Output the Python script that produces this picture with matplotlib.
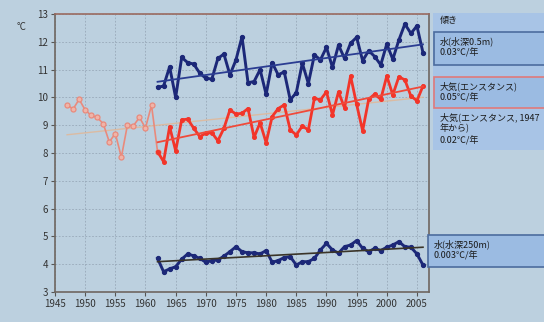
import numpy as np
import matplotlib
matplotlib.use("Agg")
import matplotlib.pyplot as plt
from matplotlib.patches import Rectangle

plt.rcParams['font.family'] = ['Noto Sans CJK JP', 'DejaVu Sans']

# ---- data -------------------------------------------------------------
years_main = list(range(1962, 2007))
years_early = list(range(1947, 1963))

water_05m = [10.36, 10.41, 11.10, 10.00, 11.44, 11.25, 11.20, 10.87, 10.69, 10.66,
             11.40, 11.56, 10.81, 11.35, 12.18, 10.53, 10.57, 11.00, 10.11, 11.25,
             10.81, 10.92, 9.91, 10.17, 11.23, 10.50, 11.53, 11.35, 11.80, 11.08,
             11.88, 11.40, 11.95, 12.16, 11.32, 11.68, 11.47, 11.17, 11.92, 11.37,
             12.06, 12.64, 12.30, 12.57, 11.61]

air = [8.05, 7.69, 8.95, 8.08, 9.19, 9.22, 8.89, 8.59, 8.71, 8.73,
       8.44, 8.89, 9.55, 9.40, 9.43, 9.60, 8.56, 9.09, 8.37, 9.31,
       9.60, 9.73, 8.83, 8.65, 8.97, 8.83, 9.97, 9.91, 10.20, 9.37,
       10.20, 9.62, 10.77, 9.75, 8.80, 9.93, 10.12, 9.93, 10.77, 10.09,
       10.74, 10.63, 10.05, 9.88, 10.41]

air_early = [9.73, 9.58, 9.93, 9.55, 9.35, 9.28, 9.05, 8.40, 8.70, 7.85,
             9.00, 8.98, 9.28, 8.90, 9.72, 8.05]

water_250m = [4.21, 3.73, 3.83, 3.91, 4.18, 4.37, 4.30, 4.21, 4.07, 4.13,
              4.15, 4.29, 4.45, 4.63, 4.45, 4.41, 4.41, 4.37, 4.49, 4.07,
              4.13, 4.24, 4.27, 3.97, 4.09, 4.09, 4.21, 4.51, 4.75, 4.51,
              4.40, 4.63, 4.69, 4.85, 4.57, 4.45, 4.57, 4.49, 4.61, 4.69,
              4.81, 4.63, 4.61, 4.37, 3.97]

x_ticks = list(range(1945, 2006, 5))
y_ticks = list(range(3, 14))

legend_title = "傾き"
label_w05 = "水(水深0.5m)\n0.03℃/年"
label_air = "大気(エンスタンス)\n0.05℃/年"
label_air47 = "大気(エンスタンス, 1947\n年から)\n0.02℃/年"
label_w250 = "水(水深250m)\n0.003℃/年"

# ---- styling ------------------------------------------------------------
BG = "#BCD0DF"
NAVY = "#1C2878"
RED = "#F2352A"
PINK = "#E98A7C"
PANEL = "#A8C4E6"
BOX = "#9BBBE2"

W, H = 544, 322
fig = plt.figure(figsize=(W / 100, H / 100), dpi=100, facecolor=BG)
ax = fig.add_axes([55 / W, 1 - 292 / H, (429 - 55) / W, (292 - 14) / H])
ax.set_facecolor(BG)


def trend(xs, ys):
    k, b = np.polyfit(xs, ys, 1)
    xs = np.array([xs[0], xs[-1]], dtype=float)
    return xs, k * xs + b


# 1947-onwards air series and its trend (drawn underneath)
all_air_years = years_early[:-1] + years_main
all_air = air_early[:-1] + air
tx, ty = trend(all_air_years, all_air)
ax.plot(tx, ty, color="#E6B48E", lw=1.0, alpha=0.75, zorder=2)
ax.plot(years_early, air_early, color=PINK, lw=1.2, marker="o", ms=3.6,
        mfc="#F0B4A8", mec=PINK, mew=0.9, zorder=3)

# shallow water
ax.plot(years_main, water_05m, color=NAVY, lw=2.1, marker="o", ms=2.8, zorder=4)
tx, ty = trend(years_main, water_05m)
ax.plot(tx, ty, color="#2B3D92", lw=1.3, zorder=5)

# air
ax.plot(years_main, air, color=RED, lw=2.0, marker="o", ms=2.6, zorder=4)
tx, ty = trend(years_main, air)
ax.plot(tx, ty, color="#F04A3A", lw=1.3, zorder=5)

# deep water
ax.plot(years_main, water_250m, color=NAVY, lw=2.1, marker="o", ms=2.8, zorder=4)
tx, ty = trend(years_main, water_250m)
ax.plot(tx, ty, color="#3A3428", lw=1.2, zorder=5)

ax.set_xlim(1945, 2007)
ax.set_ylim(3, 13)
ax.set_xticks(x_ticks)
ax.set_yticks(y_ticks)
ax.tick_params(axis="both", labelsize=7, colors="#555555", labelcolor="#333333",
               length=3, width=0.8, direction="out", pad=2)
ax.grid(True, color="#98A8B8", lw=0.6, ls=(0, (2, 2)))
ax.set_axisbelow(True)
for side in ("left", "bottom", "right"):
    ax.spines[side].set_color("#6E6660")
    ax.spines[side].set_linewidth(1.2)
ax.spines["top"].set_color("#9A6A60")
ax.spines["top"].set_linewidth(1.2)

fig.text(22 / W, 1 - 27 / H, "°C", fontsize=7, color="#333333",
         ha="center", va="center")

# ---- slope panel on the right ----------------------------------------
def px_rect(x0, y0, x1, y1, **kw):
    fig.patches.append(Rectangle((x0 / W, 1 - y1 / H), (x1 - x0) / W, (y1 - y0) / H,
                                 transform=fig.transFigure, figure=fig, **kw))


px_rect(433, 13, 546, 150, facecolor=PANEL, edgecolor="none")
px_rect(434, 32, 546, 65, facecolor=BOX, edgecolor="#4C6C9E", lw=1.2)
px_rect(434, 77, 546, 108, facecolor=BOX, edgecolor="#E07A7A", lw=1.2)
px_rect(428, 235, 546, 267, facecolor=BOX, edgecolor="#4C6C9E", lw=1.2)

txt = dict(fontsize=6.5, color="#1A1A1A", ha="left", va="top", linespacing=1.3)
fig.text(440 / W, 1 - 16 / H, legend_title, **txt)
fig.text(440 / W, 1 - 36 / H, label_w05, **txt)
fig.text(440 / W, 1 - 81 / H, label_air, **txt)
fig.text(440 / W, 1 - 112 / H, label_air47, **txt)
fig.text(434 / W, 1 - 239 / H, label_w250, **txt)

fig.savefig("out.png", dpi=100, facecolor=BG)
